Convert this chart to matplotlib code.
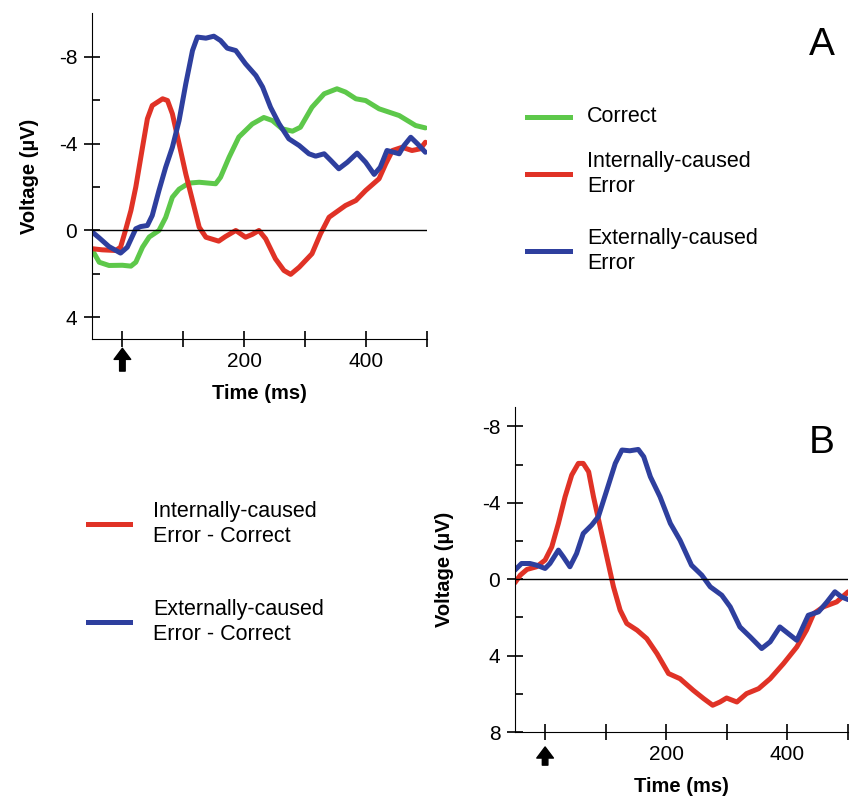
import matplotlib
matplotlib.use("Agg")
import matplotlib.pyplot as plt
from matplotlib.ticker import FixedLocator

plt.rcParams['font.family'] = ['Liberation Sans', 'DejaVu Sans']
plt.rcParams['axes.unicode_minus'] = False

# Panel A: grand averages
t_correct = [-49, -38, -22, 0, 14, 22, 33, 44, 60, 71, 82, 93, 109, 126, 153, 161, 175, 191, 213,
             232, 246, 262, 279, 292, 311, 331, 352, 366, 383, 399, 421, 454, 481, 497]
v_correct = [0.92, 1.46, 1.61, 1.6, 1.64, 1.46, 0.77, 0.3, 0.0, -0.6, -1.53, -1.9, -2.18, -2.22, -2.15,
             -2.45, -3.37, -4.3, -4.9, -5.2, -5.06, -4.68, -4.57, -4.75, -5.67, -6.29, -6.52, -6.37,
             -6.06, -5.98, -5.6, -5.29, -4.83, -4.72]

t_internal = [-49, -33, -11, -3, 5, 14, 22, 33, 41, 49, 66, 74, 82, 93, 104, 115, 126, 137, 158, 169,
              186, 202, 213, 224, 235, 251, 265, 276, 290, 311, 325, 339, 366, 383, 399, 421, 432,
              443, 459, 475, 489, 497]
v_internal = [0.84, 0.89, 0.92, 0.77, 0.0, -0.92, -2.0, -3.83, -5.14, -5.75, -6.06, -5.98, -5.37,
              -3.99, -2.6, -1.38, -0.15, 0.31, 0.49, 0.28, 0.0, 0.31, 0.18, 0.0, 0.38, 1.3, 1.84,
              2.02, 1.69, 1.07, 0.15, -0.61, -1.15, -1.38, -1.84, -2.38, -3.07, -3.68, -3.83, -3.68,
              -3.76, -4.06]

t_external = [-49, -38, -22, -3, 8, 22, 30, 41, 49, 60, 71, 82, 93, 104, 115, 123, 137, 150, 161,
              172, 186, 202, 219, 230, 243, 257, 273, 290, 306, 317, 331, 342, 355, 369, 385, 399,
              413, 423, 434, 445, 454, 462, 473, 484, 497]
v_external = [0.08, 0.34, 0.74, 1.04, 0.77, -0.08, -0.18, -0.23, -0.69, -1.84, -2.91, -3.83, -5.06,
              -6.75, -8.28, -8.9, -8.85, -8.94, -8.74, -8.39, -8.28, -7.67, -7.13, -6.6, -5.67,
              -4.91, -4.22, -3.91, -3.53, -3.42, -3.53, -3.22, -2.84, -3.14, -3.56, -3.14, -2.58,
              -2.91, -3.68, -3.6, -3.53, -3.91, -4.29, -3.99, -3.6]

# Panel B: difference waves
t_int_diff = [-50, -41, -30, -14, 0, 11, 22, 33, 44, 55, 63, 72, 80, 91, 102, 113, 124, 135, 152,
              168, 185, 204, 223, 245, 262, 277, 289, 300, 317, 333, 353, 372, 394, 416, 432, 444,
              460, 482, 501]
v_int_diff = [0.19, -0.21, -0.51, -0.65, -1.0, -1.69, -2.92, -4.31, -5.45, -6.06, -6.06, -5.62,
              -4.31, -2.74, -1.17, 0.4, 1.62, 2.32, 2.67, 3.11, 3.9, 4.94, 5.21, 5.82, 6.25, 6.6,
              6.43, 6.22, 6.43, 5.99, 5.73, 5.21, 4.42, 3.55, 2.67, 1.8, 1.45, 1.19, 0.66]

t_ext_diff = [-50, -39, -25, -14, 0, 8, 22, 30, 41, 52, 63, 77, 88, 102, 116, 127, 140, 154, 163,
              174, 190, 207, 223, 242, 259, 273, 292, 306, 322, 339, 358, 372, 388, 402, 416, 435,
              452, 466, 479, 490, 501]
v_ext_diff = [-0.47, -0.82, -0.82, -0.73, -0.56, -0.82, -1.52, -1.17, -0.65, -1.34, -2.39, -2.83,
              -3.27, -4.66, -6.06, -6.76, -6.72, -6.79, -6.41, -5.36, -4.31, -2.92, -2.04, -0.73,
              -0.21, 0.4, 0.84, 1.45, 2.5, 3.02, 3.63, 3.28, 2.5, 2.85, 3.2, 1.89, 1.71, 1.19, 0.66,
              0.93, 1.07]

green = '#5dc84a'
red = '#e03226'
blue = '#2e3f9e'
lw = 3.6

fig = plt.figure(figsize=(8.51, 7.98), dpi=100)
axA = fig.add_axes([0.108, 0.575, 0.394, 0.4085])
axB = fig.add_axes([0.605, 0.0827, 0.391, 0.407])


def style_axis(ax, ylim, yticks, yminor, label_x, label_y, arrow):
    ax.set_xlim(-50, 500)
    ax.set_ylim(*ylim)
    for s in ['top', 'right']:
        ax.spines[s].set_visible(False)
    ax.axhline(0, color='black', lw=1)
    ax.xaxis.set_major_locator(FixedLocator([200, 400]))
    ax.xaxis.set_minor_locator(FixedLocator([0, 100, 300, 500]))
    ax.yaxis.set_major_locator(FixedLocator(yticks))
    ax.yaxis.set_minor_locator(FixedLocator(yminor))
    ax.tick_params(which='major', direction='inout', length=11, width=1.2, labelsize=15, pad=4)
    ax.tick_params(axis='x', which='minor', direction='inout', length=11, width=1.2)
    ax.tick_params(axis='y', which='minor', direction='in', length=6, width=1.2)
    ax.tick_params(axis='y', which='major', pad=5)
    ax.set_xlabel('Time (ms)', fontsize=14.5, fontweight='bold')
    ax.set_ylabel('Voltage (µV)', fontsize=14.5, fontweight='bold')
    ax.xaxis.label.set_va('center')
    ax.yaxis.label.set_va('center')
    ax.xaxis.set_label_coords(0.5, label_y)
    ax.yaxis.set_label_coords(label_x, 0.5)
    ax.annotate('', xy=(0, arrow[0]), xytext=(0, arrow[1]),
                xycoords=('data', 'axes fraction'), textcoords=('data', 'axes fraction'),
                arrowprops=dict(facecolor='black', edgecolor='black', width=4.0,
                                headwidth=12, headlength=8, shrink=0))


axA.plot(t_correct, v_correct, color=green, lw=lw, solid_joinstyle='round', solid_capstyle='round')
axA.plot(t_internal, v_internal, color=red, lw=lw, solid_joinstyle='round', solid_capstyle='round')
axA.plot(t_external, v_external, color=blue, lw=lw, solid_joinstyle='round', solid_capstyle='round')
style_axis(axA, (5, -10), [-8, -4, 0, 4], [-6, -2, 2], -0.185, -0.166, (-0.028, -0.098))

axB.plot(t_int_diff, v_int_diff, color=red, lw=lw, solid_joinstyle='round', solid_capstyle='round')
axB.plot(t_ext_diff, v_ext_diff, color=blue, lw=lw, solid_joinstyle='round', solid_capstyle='round')
style_axis(axB, (8, -9), [-8, -4, 0, 4, 8], [-6, -2, 2, 6], -0.21, -0.169, (-0.046, -0.102))

# panel letters
fig.text(822 / 851, 1 - 45 / 798, 'A', fontsize=28, ha='center', va='center')
fig.text(822 / 851, 1 - 443 / 798, 'B', fontsize=28, ha='center', va='center')


def legend_entry(x0, x1, xt, y, color, text):
    fy = 1 - y / 798
    fig.add_artist(plt.Line2D([x0 / 851, x1 / 851], [fy, fy], color=color, lw=lw,
                              transform=fig.transFigure))
    fig.text(xt / 851, fy, text, fontsize=15.5, ha='left', va='center', linespacing=1.3)


legend_entry(527, 570, 587, 117, green, 'Correct')
legend_entry(527, 570, 587, 174, red, 'Internally-caused\nError')
legend_entry(527, 570, 587, 251, blue, 'Externally-caused\nError')
legend_entry(88, 130, 153, 524, red, 'Internally-caused\nError - Correct')
legend_entry(88, 130, 153, 622, blue, 'Externally-caused\nError - Correct')

fig.savefig('out.png', dpi=100)
